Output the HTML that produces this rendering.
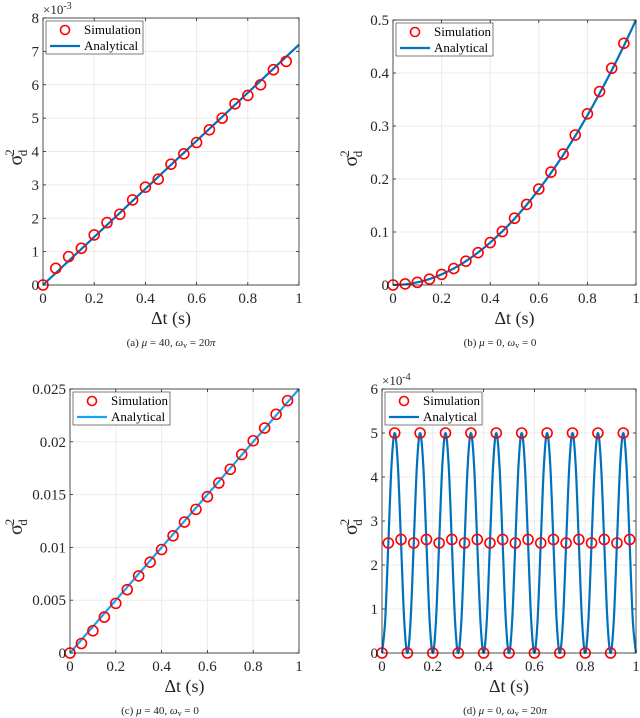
<!DOCTYPE html>
<html><head><meta charset="utf-8"><style>
body{margin:0;background:#fff;}
svg{display:block;font-family:"Liberation Serif",serif;}
</style></head><body>
<svg id="fig" width="640" height="718" viewBox="0 0 640 718"></svg>
<script>
// ---- data ----
const simT = [0,0.05,0.1,0.15,0.2,0.25,0.3,0.35,0.4,0.45,0.5,0.55,0.6,0.65,0.7,0.75,0.8,0.85,0.9,0.95];
const simA = [0,0.5,0.85,1.1,1.5,1.87,2.12,2.55,2.93,3.17,3.62,3.93,4.27,4.65,5.0,5.43,5.68,6.0,6.45,6.7];
const lineAT = [0,1];
const lineA = [0,7.2];
const simB = [0,0.002,0.005,0.011,0.02,0.031,0.045,0.061,0.08,0.101,0.126,0.152,0.181,0.213,0.247,0.283,0.323,0.365,0.409,0.456];
const lineBT = [0,0.05,0.1,0.15,0.2,0.25,0.3,0.35,0.4,0.45,0.5,0.55,0.6,0.65,0.7,0.75,0.8,0.85,0.9,0.95,1];
const lineB = [0,0.00125,0.005,0.01125,0.02,0.03125,0.045,0.06125,0.08,0.10125,0.125,0.15125,0.18,0.21125,0.245,0.28125,0.32,0.36125,0.405,0.45125,0.5];
const simC = [0,0.0009,0.0021,0.0034,0.0047,0.006,0.0073,0.0086,0.0098,0.0111,0.0124,0.0136,0.0148,0.0161,0.0174,0.0188,0.0201,0.0213,0.0226,0.0239];
const lineCT = [0,1];
const lineC = [0,0.025];
const simDT = [0,0.025,0.05,0.075,0.1,0.125,0.15,0.175,0.2,0.225,0.25,0.275,0.3,0.325,0.35,0.375,0.4,0.425,0.45,0.475,0.5,0.525,0.55,0.575,0.6,0.625,0.65,0.675,0.7,0.725,0.75,0.775,0.8,0.825,0.85,0.875,0.9,0.925,0.95,0.975];
const simD = [0,2.5,5,2.58,0,2.5,5,2.58,0,2.5,5,2.58,0,2.5,5,2.58,0,2.5,5,2.58,0,2.5,5,2.58,0,2.5,5,2.58,0,2.5,5,2.58,0,2.5,5,2.58,0,2.5,5,2.58];
const lineDT = [0,0.0125,0.025,0.0375,0.05,0.0625,0.075,0.0875,0.1,0.1125,0.125,0.1375,0.15,0.1625,0.175,0.1875,0.2,0.2125,0.225,0.2375,0.25,0.2625,0.275,0.2875,0.3,0.3125,0.325,0.3375,0.35,0.3625,0.375,0.3875,0.4,0.4125,0.425,0.4375,0.45,0.4625,0.475,0.4875,0.5,0.5125,0.525,0.5375,0.55,0.5625,0.575,0.5875,0.6,0.6125,0.625,0.6375,0.65,0.6625,0.675,0.6875,0.7,0.7125,0.725,0.7375,0.75,0.7625,0.775,0.7875,0.8,0.8125,0.825,0.8375,0.85,0.8625,0.875,0.8875,0.9,0.9125,0.925,0.9375,0.95,0.9625,0.975,0.9875,1];
const lineD = [0,0.732,2.5,4.268,5,4.268,2.5,0.732,0,0.732,2.5,4.268,5,4.268,2.5,0.732,0,0.732,2.5,4.268,5,4.268,2.5,0.732,0,0.732,2.5,4.268,5,4.268,2.5,0.732,0,0.732,2.5,4.268,5,4.268,2.5,0.732,0,0.732,2.5,4.268,5,4.268,2.5,0.732,0,0.732,2.5,4.268,5,4.268,2.5,0.732,0,0.732,2.5,4.268,5,4.268,2.5,0.732,0,0.732,2.5,4.268,5,4.268,2.5,0.732,0,0.732,2.5,4.268,5,4.268,2.5,0.732,0];
const xTicks = [0,0.2,0.4,0.6,0.8,1];
const xTickLabels = ["0","0.2","0.4","0.6","0.8","1"];
const yTicksA = [0,1,2,3,4,5,6,7,8];
const yTicksB = [0,0.1,0.2,0.3,0.4,0.5];
const yTickLabelsB = ["0","0.1","0.2","0.3","0.4","0.5"];
const yTicksC = [0,0.005,0.01,0.015,0.02,0.025];
const yTickLabelsC = ["0","0.005","0.01","0.015","0.02","0.025"];
const yTicksD = [0,1,2,3,4,5,6];

const NS="http://www.w3.org/2000/svg";
const svg=document.getElementById('fig');
function mk(tag,attrs,parent){const e=document.createElementNS(NS,tag);for(const k in attrs)e.setAttribute(k,attrs[k]);(parent||svg).appendChild(e);return e;}

function smoothPath(pts){
  let d=`M${pts[0][0]},${pts[0][1]}`;
  for(let i=0;i<pts.length-1;i++){
    const p0=pts[Math.max(0,i-1)],p1=pts[i],p2=pts[i+1],p3=pts[Math.min(pts.length-1,i+2)];
    const c1=[p1[0]+(p2[0]-p0[0])/6,p1[1]+(p2[1]-p0[1])/6];
    const c2=[p2[0]-(p3[0]-p1[0])/6,p2[1]-(p3[1]-p1[1])/6];
    d+=` C${c1[0]},${c1[1]} ${c2[0]},${c2[1]} ${p2[0]},${p2[1]}`;
  }
  return d;
}

function panel(o){
  const g=mk('g',{});
  
  
  const sx=v=>o.x0+(v-o.xmin)/(o.xmax-o.xmin)*(o.x1-o.x0);
  const sy=v=>o.y0-(v-o.ymin)/(o.ymax-o.ymin)*(o.y0-o.y1);
  xTicks.forEach(t=>{const l=mk('line',{x1:sx(t),x2:sx(t),y1:o.y0,y2:o.y1,stroke:'#ebebeb','stroke-width':1},g);
    
    });
  o.yTicks.forEach(t=>{const l=mk('line',{x1:o.x0,x2:o.x1,y1:sy(t),y2:sy(t),stroke:'#ebebeb','stroke-width':1},g);
    
    });
  const pts=o.lt.map((t,i)=>[sx(t),sy(o.lv[i])]);
  const p=mk('path',{d:o.smooth?smoothPath(pts):'M'+pts.map(q=>q.join(',')).join(' L'),fill:'none',stroke:o.lineColor,'stroke-width':2.2},g);
  
  
  o.st.forEach((t,i)=>{const c=mk('circle',{cx:sx(t),cy:sy(o.sv[i]),r:5,fill:'none',stroke:'#ff0000','stroke-width':1.6},g);
    
    });
  const b=mk('rect',{x:o.x0,y:o.y1,width:o.x1-o.x0,height:o.y0-o.y1,fill:'none',stroke:'#262626','stroke-width':0.8},g);
  
  
  xTicks.forEach((t,i)=>{
    mk('line',{x1:sx(t),x2:sx(t),y1:o.y0,y2:o.y0-3,stroke:'#262626','stroke-width':0.8},g);
    mk('line',{x1:sx(t),x2:sx(t),y1:o.y1,y2:o.y1+3,stroke:'#262626','stroke-width':0.8},g);
    const tx=mk('text',{x:sx(t),y:o.y0+18,'text-anchor':'middle','font-size':15,fill:'#262626'},g);
    tx.textContent=xTickLabels[i];
    
    
  });
  o.yTicks.forEach((t,i)=>{
    mk('line',{x1:o.x0,x2:o.x0+3,y1:sy(t),y2:sy(t),stroke:'#262626','stroke-width':0.8},g);
    mk('line',{x1:o.x1,x2:o.x1-3,y1:sy(t),y2:sy(t),stroke:'#262626','stroke-width':0.8},g);
    const tx=mk('text',{x:o.x0-4,y:sy(t)+5,'text-anchor':'end','font-size':15,fill:'#262626'},g);
    tx.textContent=o.yLabels[i];
    
    
  });
  if(o.exp){
    const e=mk('text',{x:o.x0,y:o.y1-4,'font-size':13,fill:'#262626'},g);
    e.innerHTML='×10<tspan dy="-5" font-size="10">'+o.exp+'</tspan>';
    
    
  }
  const xl=mk('text',{x:(o.x0+o.x1)/2,y:o.y0+39,'text-anchor':'middle','font-size':18,fill:'#262626'},g);
  xl.textContent='Δt (s)';
  
  
  const yl=mk('text',{transform:`translate(${o.ylx},${(o.y0+o.y1)/2+14}) rotate(-90)`,'font-size':20,fill:'#262626'},g);
  yl.innerHTML='σ<tspan dx="-1" dy="-8" font-size="13">2</tspan><tspan dx="-7" dy="13" font-size="13">d</tspan>';
  
  
  const lx=o.x0+3,ly=o.y1+3;
  const lg=mk('g',{},g);
  
  
  mk('rect',{x:lx,y:ly,width:97,height:33,fill:'#fff',stroke:'#262626','stroke-width':0.6},lg);
  mk('circle',{cx:lx+19,cy:ly+9,r:4.5,fill:'none',stroke:'#ff0000','stroke-width':1.6},lg);
  mk('line',{x1:lx+4,x2:lx+34,y1:ly+25,y2:ly+25,stroke:o.lineColor,'stroke-width':2.2},lg);
  const t1=mk('text',{x:lx+38,y:ly+13,'font-size':13,fill:'#000'},lg);t1.textContent='Simulation';
  
  
  const t2=mk('text',{x:lx+38,y:ly+29,'font-size':13,fill:'#000'},lg);t2.textContent='Analytical';
  
  
  const cp=mk('text',{x:o.capX,y:o.capY,'text-anchor':'middle','font-size':11,fill:'#222'},g);
  cp.innerHTML=o.cap;
  
  
}

panel({name:'panel-a',x0:43,x1:299,y0:285,y1:18,xmin:0,xmax:1,ymin:0,ymax:8,yTicks:yTicksA,yLabels:yTicksA.map(String),
  st:simT,sv:simA,lt:lineAT,lv:lineA,lineColor:'#0072bd',exp:'-3',ylx:22,capX:171,capY:346,
  cap:'(a) <tspan font-style="italic">μ</tspan> = 40,  <tspan font-style="italic">ω</tspan><tspan font-size="8" dy="2">v</tspan><tspan dy="-2"> = 20</tspan><tspan font-style="italic">π</tspan>'});
panel({name:'panel-b',x0:393,x1:636,y0:285,y1:20,xmin:0,xmax:1,ymin:0,ymax:0.5,yTicks:yTicksB,yLabels:yTickLabelsB,
  st:simT,sv:simB,lt:lineBT,lv:lineB,smooth:true,lineColor:'#0072bd',ylx:357,capX:500,capY:346,
  cap:'(b) <tspan font-style="italic">μ</tspan> = 0,  <tspan font-style="italic">ω</tspan><tspan font-size="8" dy="2">v</tspan><tspan dy="-2"> = 0</tspan>'});
panel({name:'panel-c',x0:70,x1:299,y0:653,y1:389,xmin:0,xmax:1,ymin:0,ymax:0.025,yTicks:yTicksC,yLabels:yTickLabelsC,
  st:simT,sv:simC,lt:lineCT,lv:lineC,lineColor:'#1aa3ef',ylx:22,capX:160,capY:714,
  cap:'(c) <tspan font-style="italic">μ</tspan> = 40,  <tspan font-style="italic">ω</tspan><tspan font-size="8" dy="2">v</tspan><tspan dy="-2"> = 0</tspan>'});
panel({name:'panel-d',x0:382,x1:636,y0:653,y1:389,xmin:0,xmax:1,ymin:0,ymax:6,yTicks:yTicksD,yLabels:yTicksD.map(String),
  st:simDT,sv:simD,lt:lineDT,lv:lineD,smooth:true,lineColor:'#0072bd',exp:'-4',ylx:357,capX:505,capY:714,
  cap:'(d) <tspan font-style="italic">μ</tspan> = 0,  <tspan font-style="italic">ω</tspan><tspan font-size="8" dy="2">v</tspan><tspan dy="-2"> = 20</tspan><tspan font-style="italic">π</tspan>'});
</script>
</body></html>
